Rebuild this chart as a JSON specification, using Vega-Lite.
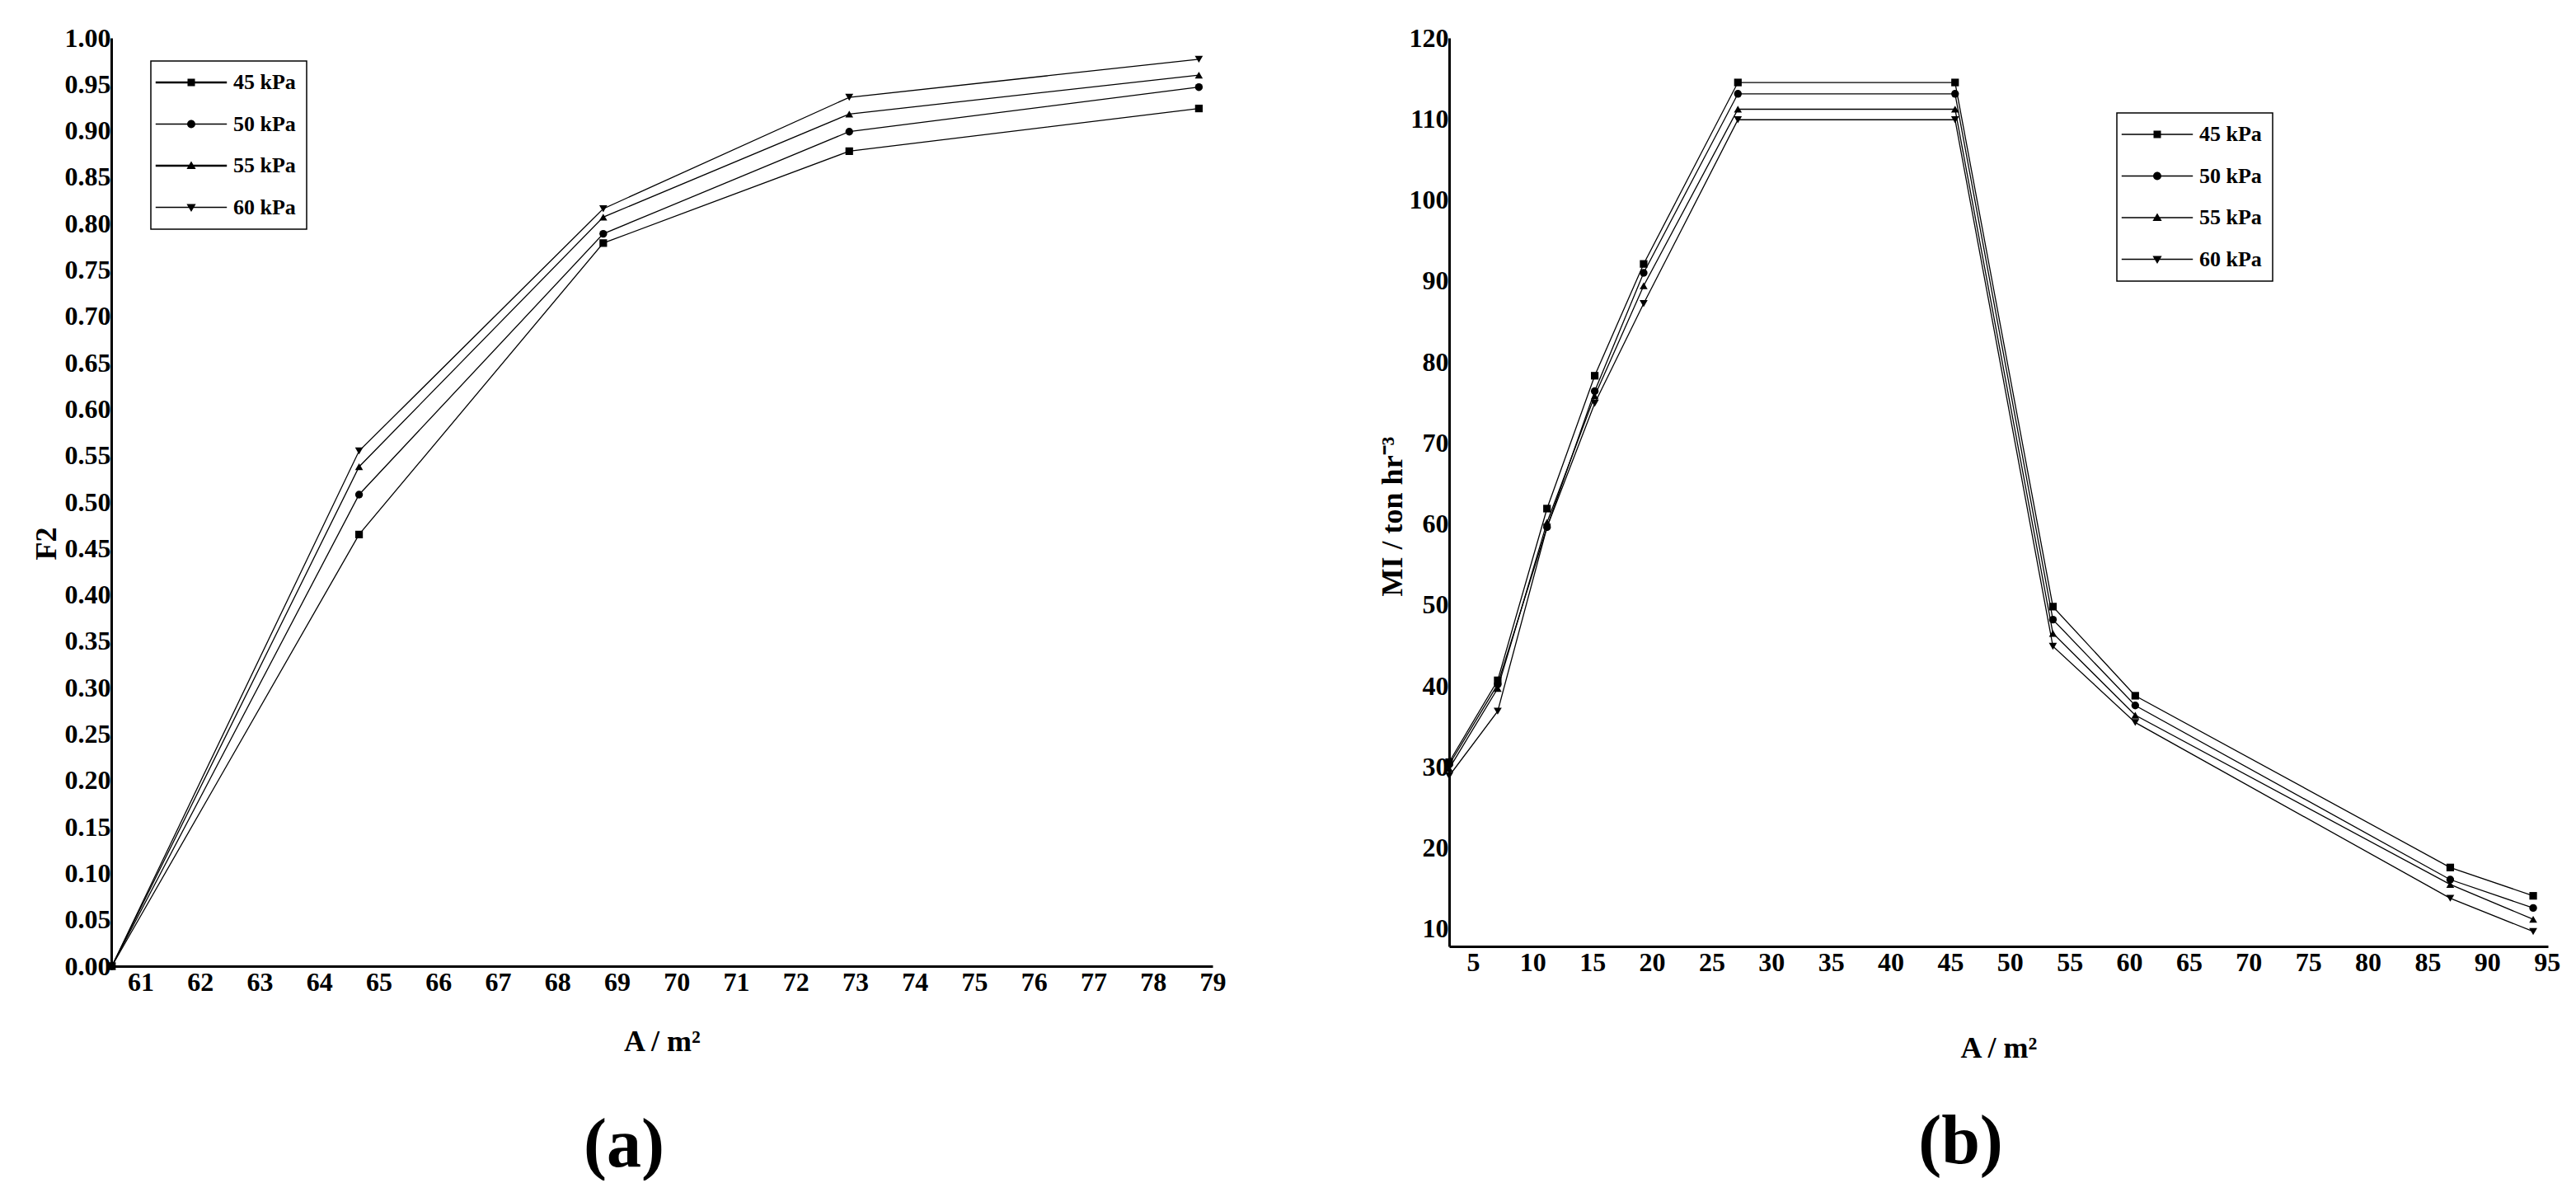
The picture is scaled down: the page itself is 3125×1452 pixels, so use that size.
{
  "$schema": "https://vega.github.io/schema/vega-lite/v6.json",
  "background": "white",
  "padding": {"left": 38, "top": 30, "right": 0, "bottom": 0},
  "spacing": 287,
  "bounds": "flush",
  "datasets": {
    "left": [
      {"A": 60.52, "v": 0.0, "series": "45 kPa"},
      {"A": 64.67, "v": 0.465, "series": "45 kPa"},
      {"A": 68.77, "v": 0.779, "series": "45 kPa"},
      {"A": 72.9, "v": 0.878, "series": "45 kPa"},
      {"A": 78.77, "v": 0.924, "series": "45 kPa"},
      {"A": 60.52, "v": 0.0, "series": "50 kPa"},
      {"A": 64.67, "v": 0.508, "series": "50 kPa"},
      {"A": 68.77, "v": 0.789, "series": "50 kPa"},
      {"A": 72.9, "v": 0.899, "series": "50 kPa"},
      {"A": 78.77, "v": 0.947, "series": "50 kPa"},
      {"A": 60.52, "v": 0.0, "series": "55 kPa"},
      {"A": 64.67, "v": 0.538, "series": "55 kPa"},
      {"A": 68.77, "v": 0.807, "series": "55 kPa"},
      {"A": 72.9, "v": 0.918, "series": "55 kPa"},
      {"A": 78.77, "v": 0.96, "series": "55 kPa"},
      {"A": 60.52, "v": 0.0, "series": "60 kPa"},
      {"A": 64.67, "v": 0.555, "series": "60 kPa"},
      {"A": 68.77, "v": 0.816, "series": "60 kPa"},
      {"A": 72.9, "v": 0.936, "series": "60 kPa"},
      {"A": 78.77, "v": 0.977, "series": "60 kPa"}
    ],
    "right": [
      {"A": 3.0, "v": 30.6, "series": "45 kPa"},
      {"A": 7.07, "v": 40.7, "series": "45 kPa"},
      {"A": 11.2, "v": 61.9, "series": "45 kPa"},
      {"A": 15.2, "v": 78.3, "series": "45 kPa"},
      {"A": 19.3, "v": 92.1, "series": "45 kPa"},
      {"A": 27.2, "v": 114.5, "series": "45 kPa"},
      {"A": 45.4, "v": 114.5, "series": "45 kPa"},
      {"A": 53.6, "v": 49.8, "series": "45 kPa"},
      {"A": 60.5, "v": 38.8, "series": "45 kPa"},
      {"A": 86.9, "v": 17.6, "series": "45 kPa"},
      {"A": 93.85, "v": 14.1, "series": "45 kPa"},
      {"A": 3.0, "v": 30.3, "series": "50 kPa"},
      {"A": 7.07, "v": 40.2, "series": "50 kPa"},
      {"A": 11.2, "v": 59.6, "series": "50 kPa"},
      {"A": 15.2, "v": 76.4, "series": "50 kPa"},
      {"A": 19.3, "v": 91.0, "series": "50 kPa"},
      {"A": 27.2, "v": 113.1, "series": "50 kPa"},
      {"A": 45.4, "v": 113.1, "series": "50 kPa"},
      {"A": 53.6, "v": 48.2, "series": "50 kPa"},
      {"A": 60.5, "v": 37.6, "series": "50 kPa"},
      {"A": 86.9, "v": 16.1, "series": "50 kPa"},
      {"A": 93.85, "v": 12.6, "series": "50 kPa"},
      {"A": 3.0, "v": 29.8, "series": "55 kPa"},
      {"A": 7.07, "v": 39.7, "series": "55 kPa"},
      {"A": 11.2, "v": 60.2, "series": "55 kPa"},
      {"A": 15.2, "v": 75.8, "series": "55 kPa"},
      {"A": 19.3, "v": 89.4, "series": "55 kPa"},
      {"A": 27.2, "v": 111.2, "series": "55 kPa"},
      {"A": 45.4, "v": 111.2, "series": "55 kPa"},
      {"A": 53.6, "v": 46.5, "series": "55 kPa"},
      {"A": 60.5, "v": 36.4, "series": "55 kPa"},
      {"A": 86.9, "v": 15.5, "series": "55 kPa"},
      {"A": 93.85, "v": 11.2, "series": "55 kPa"},
      {"A": 3.0, "v": 28.9, "series": "60 kPa"},
      {"A": 7.07, "v": 36.9, "series": "60 kPa"},
      {"A": 11.2, "v": 59.6, "series": "60 kPa"},
      {"A": 15.2, "v": 74.9, "series": "60 kPa"},
      {"A": 19.3, "v": 87.2, "series": "60 kPa"},
      {"A": 27.2, "v": 109.9, "series": "60 kPa"},
      {"A": 45.4, "v": 109.9, "series": "60 kPa"},
      {"A": 53.6, "v": 44.9, "series": "60 kPa"},
      {"A": 60.5, "v": 35.5, "series": "60 kPa"},
      {"A": 86.9, "v": 13.8, "series": "60 kPa"},
      {"A": 93.85, "v": 9.7, "series": "60 kPa"}
    ]
  },
  "config": {
    "view": {"stroke": null},
    "font": "Liberation Serif",
    "axis": {
      "domainColor": "black", "domainWidth": 3, "ticks": false, "grid": false,
      "labelFont": "Liberation Serif", "labelFontSize": 32, "labelFontWeight": "bold", "labelColor": "black",
      "labelFlush": false, "labelOverlap": false,
      "titleFont": "Liberation Serif", "titleFontSize": 36, "titleFontWeight": "bold", "titleColor": "black"
    },
    "axisY": {"labelPadding": 1},
    "axisX": {"labelPadding": 4},
    "title": {"font": "Liberation Serif", "fontSize": 84, "fontWeight": "bold", "color": "black", "anchor": "middle"},
    "legend": {
      "orient": "none",
      "strokeColor": "black", "strokeWidth": 1.5, "padding": 13,
      "symbolSize": 324, "symbolOffset": 23, "labelOffset": 38,
      "symbolOpacity": 1, "symbolFillColor": "black", "symbolStrokeColor": "black", "symbolStrokeWidth": 0,
      "rowPadding": 24.5,
      "labelFont": "Liberation Serif", "labelFontSize": 26, "labelFontWeight": "bold", "labelColor": "black"
    }
  },
  "resolve": {"scale": {"shape": "independent", "size": "independent"}, "legend": {"shape": "independent"}},
  "hconcat": [
    {
      "width": 1336, "height": 1126,
      "title": {"text": "(a)", "orient": "bottom", "offset": 68, "dx": -46},
      "data": {"name": "left"},
      "encoding": {
        "x": {"field": "A", "type": "quantitative",
              "scale": {"domain": [60.51, 79], "nice": false, "zero": false},
              "axis": {"values": [61,62,63,64,65,66,67,68,69,70,71,72,73,74,75,76,77,78,79], "format": "d", "title": "A / m²", "titleY": 74}},
        "y": {"field": "v", "type": "quantitative",
              "scale": {"domain": [0, 1], "nice": false, "zero": false},
              "axis": {"values": [0,0.05,0.1,0.15,0.2,0.25,0.3,0.35,0.4,0.45,0.5,0.55,0.6,0.65,0.7,0.75,0.8,0.85,0.9,0.95,1.0], "format": ".2f", "title": "F2", "titleX": -60, "titleY": 613}}
      },
      "resolve": {"scale": {"shape": "independent"}},
      "layer": [
        {"mark": {"type": "line", "color": "black", "strokeWidth": 1.3}, "encoding": {"detail": {"field": "series"}}},
        {"mark": {"type": "point", "filled": true, "color": "black", "opacity": 1},
         "encoding": {
          "size": {"field": "series", "type": "nominal", "legend": null,
            "scale": {"domain": ["45 kPa","50 kPa","55 kPa","60 kPa"], "range": [85, 95, 120, 120]}},
          "shape": {"field": "series", "type": "nominal", "legend": null,
           "scale": {"domain": ["45 kPa","50 kPa","55 kPa","60 kPa"], "range": ["square","circle","triangle-up","triangle-down"]}}}},
        {"transform": [{"filter": "false"}],
         "mark": {"type": "point", "filled": true, "color": "black"},
         "encoding": {
          "shape": {"field": "series", "type": "nominal",
           "scale": {"domain": ["45 kPa","50 kPa","55 kPa","60 kPa"],
             "range": [
               "M-4.8,-0.15H4.8V0.15H-4.8ZM-0.5,-0.5H0.5V0.5H-0.5Z",
               "M-4.8,-0.07H4.8V0.07H-4.8ZM0.55,0A0.55,0.55,0,1,1,-0.55,0A0.55,0.55,0,1,1,0.55,0Z",
               "M-4.8,-0.15H4.8V0.15H-4.8ZM0,-0.62L0.62,0.45H-0.62Z",
               "M-4.8,-0.07H4.8V0.07H-4.8ZM0,0.62L-0.62,-0.45H0.62Z"]},
           "legend": {"title": null, "legendX": 48, "legendY": 28}}}}
      ]
    },
    {
      "width": 1333, "height": 1102,
      "title": {"text": "(b)", "orient": "bottom", "offset": 56, "dx": -46},
      "data": {"name": "right"},
      "encoding": {
        "x": {"field": "A", "type": "quantitative",
              "scale": {"domain": [3, 95.09], "nice": false, "zero": false},
              "axis": {"values": [5,10,15,20,25,30,35,40,45,50,55,60,65,70,75,80,85,90,95], "format": "d", "title": "A / m²", "titleY": 106}},
        "y": {"field": "v", "type": "quantitative",
              "scale": {"domain": [7.86, 120], "nice": false, "zero": false},
              "axis": {"values": [10,20,30,40,50,60,70,80,90,100,110,120], "format": "d", "title": "MI / ton hr⁻³", "titleX": -50, "titleY": 580}}
      },
      "resolve": {"scale": {"shape": "independent"}},
      "layer": [
        {"mark": {"type": "line", "color": "black", "strokeWidth": 1.3}, "encoding": {"detail": {"field": "series"}}},
        {"mark": {"type": "point", "filled": true, "color": "black", "opacity": 1},
         "encoding": {
          "size": {"field": "series", "type": "nominal", "legend": null,
            "scale": {"domain": ["45 kPa","50 kPa","55 kPa","60 kPa"], "range": [85, 95, 120, 120]}},
          "shape": {"field": "series", "type": "nominal", "legend": null,
           "scale": {"domain": ["45 kPa","50 kPa","55 kPa","60 kPa"], "range": ["square","circle","triangle-up","triangle-down"]}}}},
        {"transform": [{"filter": "false"}],
         "mark": {"type": "point", "filled": true, "color": "black"},
         "encoding": {
          "shape": {"field": "series", "type": "nominal",
           "scale": {"domain": ["45 kPa","50 kPa","55 kPa","60 kPa"],
             "range": [
               "M-4.8,-0.07H4.8V0.07H-4.8ZM-0.5,-0.5H0.5V0.5H-0.5Z",
               "M-4.8,-0.07H4.8V0.07H-4.8ZM0.55,0A0.55,0.55,0,1,1,-0.55,0A0.55,0.55,0,1,1,0.55,0Z",
               "M-4.8,-0.07H4.8V0.07H-4.8ZM0,-0.62L0.62,0.45H-0.62Z",
               "M-4.8,-0.07H4.8V0.07H-4.8ZM0,0.62L-0.62,-0.45H0.62Z"]},
           "legend": {"title": null, "legendX": 810, "legendY": 91}}}}
      ]
    }
  ]
}
